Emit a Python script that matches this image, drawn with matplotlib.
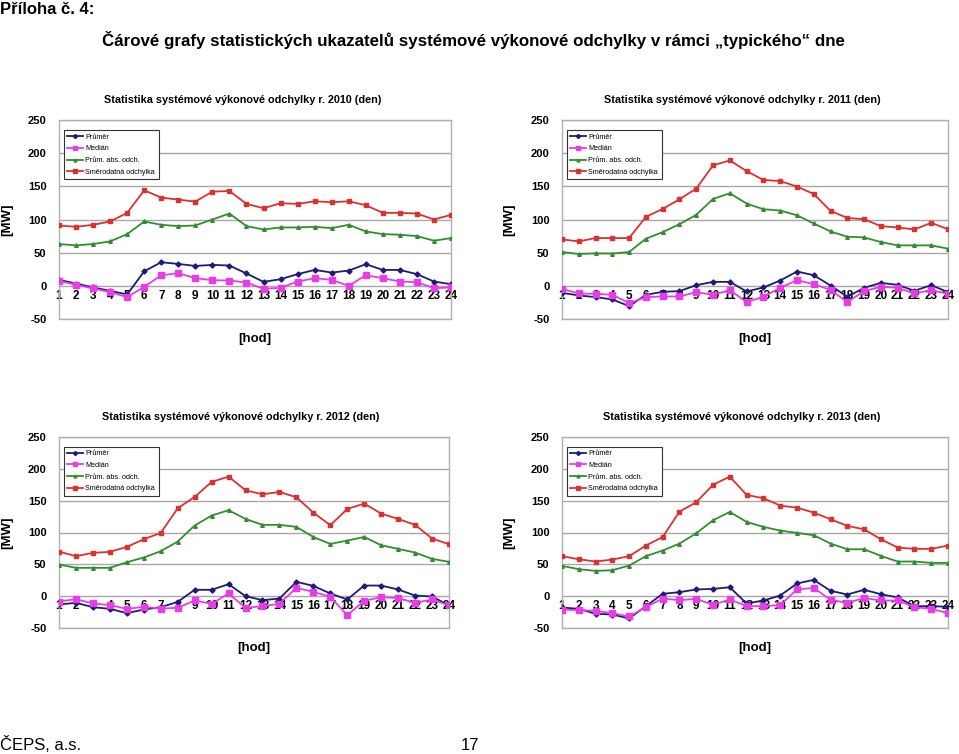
import matplotlib
matplotlib.use("Agg")
import matplotlib.pyplot as plt

plt.rcParams['font.family'] = ['Liberation Sans', 'DejaVu Sans']

hours = list(range(1, 25))

# 2010
prumer_2010 = [9, 3.5, -2.5, -7.5, -13, 22, 35.6, 33, 30, 31.6, 30.6, 18.6, 6, 10, 17.6, 24, 20, 23, 32.6, 24, 24, 17.6, 6.5, 2.5]
median_2010 = [7.5, 1.5, -4, -9.5, -17, -1.5, 16, 19, 11.5, 8.5, 8, 5, -4.5, -3, 6.5, 11.5, 9, 0, 16, 11.5, 6.5, 5.5, -3.5, -2.5]
abs_2010 = [63, 61, 63, 67, 78, 97, 92, 90, 91, 100, 109, 90, 85, 88, 88, 89, 87, 92, 82, 78, 77, 75, 68, 72]
std_2010 = [91, 89, 92, 97, 110, 144, 133, 130, 127, 142, 143, 123.5, 117, 124.5, 123.5, 127.5, 126, 127.5, 121.5, 110, 110, 109, 100, 107]

# 2011
prumer_2011 = [-10.5, -14.5, -17, -20.5, -30.6, -13.5, -9, -8, 1, 6, 6, -8.5, -2.5, 8, 21.6, 16, 0.5, -16.5, -3, 4.5, 1.5, -7.5, 1, -9.5]
median_2011 = [-4.5, -11.5, -12, -13.5, -26, -17, -16, -16, -9.5, -13.5, -6.5, -24.6, -16.5, -3, 8.5, 2.5, -6, -24.6, -8, -1.5, -3, -11.5, -6.5, -12]
abs_2011 = [51, 48, 49, 48.7, 51, 71, 81, 93, 107, 131, 139.5, 124, 115.5, 113.5, 106.4, 94, 82, 74, 73, 66, 61, 61, 61, 56]
std_2011 = [70, 67, 72, 72, 72, 104, 116, 130.5, 146.6, 181.7, 189, 173, 159.6, 158, 149.6, 138.5, 113, 102.4, 100.4, 90, 88, 85, 95, 85.3]

# 2012
prumer_2012 = [-13, -10.5, -17.3, -19.9, -26.7, -21, -17.3, -9, 10, 10, 18.8, 0, -6.3, -3.7, 22.5, 16.2, 4.2, -5.2, 16.7, 16.7, 10.5, 1, -0.5, -14.6]
median_2012 = [-8.4, -4.7, -11.5, -14, -20, -16.7, -19.4, -18.3, -6.8, -12, 4.2, -18.3, -15.7, -12, 13, 6.8, -1, -29.8, -7.3, -1.6, -3, -10.5, -5.2, -14.6]
abs_2012 = [49.7, 44.5, 44.5, 44.5, 53.3, 60.7, 70.6, 85.8, 110.9, 126.6, 135, 121.3, 112, 112, 108.8, 93, 82, 87.3, 93, 80, 74.3, 68.5, 58.6, 53.9]
std_2012 = [70, 62.8, 68, 69.6, 77.4, 89.4, 99.4, 138, 155.9, 179.4, 187.8, 166.3, 160, 163.7, 155.3, 131.3, 111.4, 137, 145.4, 129.7, 121.3, 112, 90.5, 81.6]

# 2013
prumer_2013 = [-17.8, -19.9, -27.7, -28.8, -35, -15.7, 3.7, 6.3, 10.5, 11.5, 14, -11.5, -6.8, 1, 19.9, 25.6, 8.4, 2.6, 10, 3.1, -2, -15.7, -15.7, -16.7]
median_2013 = [-21, -22, -23, -26.7, -31.9, -17.3, -3.7, -6.3, -4.2, -13.6, -5.2, -15.7, -15.7, -14, 10.5, 13, -5.8, -10.5, -3, -6.8, -6.8, -17.3, -19.9, -26.7]
abs_2013 = [47.6, 42.4, 39.7, 40.8, 48, 62.8, 71.7, 82.6, 98.8, 119.2, 132.3, 116.6, 108.8, 103, 99.4, 95.7, 82.6, 73.7, 73.7, 63.3, 54.4, 54.4, 52.3, 52.3]
std_2013 = [62.8, 58, 54.4, 57.5, 62.8, 79.5, 93, 132.8, 147.5, 175, 187.8, 159, 153.8, 142.3, 139, 131.3, 120.8, 110.4, 105, 89.4, 76.4, 74.3, 74.3, 79.5]

years = ['2010', '2011', '2012', '2013']
series_names = ['Průměr', 'Medián', 'Prům. abs. odch.', 'Směrodatná odchylka']
data = {
    '2010': [prumer_2010, median_2010, abs_2010, std_2010],
    '2011': [prumer_2011, median_2011, abs_2011, std_2011],
    '2012': [prumer_2012, median_2012, abs_2012, std_2012],
    '2013': [prumer_2013, median_2013, abs_2013, std_2013],
}
y_ticks = [-50, 0, 50, 100, 150, 200, 250]

colors = ['#1c1c78', '#e83ce8', '#2f8f2f', '#dd3030']
markers = ['D', 's', '^', 's']
msizes = [2.6, 4.2, 2.6, 2.8]

W, H = 959, 754
fig = plt.figure(figsize=(W / 100, H / 100), dpi=100)

def px_axes(x0, y0, x1, y1):
    return fig.add_axes([x0 / W, 1 - y1 / H, (x1 - x0) / W, (y1 - y0) / H])

boxes = {
    '2010': (59, 120, 451, 319),
    '2011': (562, 120, 948, 319),
    '2012': (59, 437, 449, 628),
    '2013': (562, 437, 948, 628),
}
mw_x = {'2010': 13, '2011': 515, '2012': 13, '2013': 515}
title_cx = {'2010': 243, '2011': 742, '2012': 241, '2013': 742}

for yr in years:
    x0, y0, x1, y1 = boxes[yr]
    ax = px_axes(x0, y0, x1, y1)
    for vals, name, c, m, ms in zip(data[yr], series_names, colors, markers, msizes):
        ax.plot(hours, vals, color=c, lw=1.3, marker=m, ms=ms, mec=c, mfc=c, label=name, zorder=3)
    ax.set_xlim(1, 24)
    ax.set_ylim(-50, 250)
    ax.set_yticks(y_ticks)
    ax.set_yticklabels([str(t) for t in y_ticks], fontsize=8, fontweight='bold')
    ax.tick_params(axis='y', length=0, pad=9)
    ax.set_xticks([])
    ax.grid(axis='y', color='#a8a8a8', lw=1.0)
    ax.set_axisbelow(True)
    for s in ax.spines.values():
        s.set_color('#b0b0b0')
        s.set_linewidth(1.0)
    sec = ax.secondary_xaxis(50 / 300)
    sec.set_xticks(hours)
    sec.set_xticklabels([str(h) for h in hours], fontsize=8.5, fontweight='bold')
    sec.tick_params(axis='x', length=0, pad=3)
    sec.spines['bottom'].set_visible(False)
    ax.set_title('Statistika systémové výkonové odchylky r. %s (den)' % yr,
                 fontsize=7.8, fontweight='bold', pad=12,
                 x=(title_cx[yr] - x0) / (x1 - x0))
    ax.set_ylabel('[MW]', fontsize=9.5, fontweight='bold')
    ax.yaxis.set_label_coords((mw_x[yr] - x0) / (x1 - x0), 0.5)
    ax.set_xlabel('[hod]', fontsize=9.5, fontweight='bold', labelpad=10)
    leg = ax.legend(loc='upper left', bbox_to_anchor=(0.012, 0.95), fontsize=5.2,
                    frameon=True, fancybox=False, edgecolor='#333333', framealpha=1,
                    borderaxespad=0, handlelength=2.2, handletextpad=0.3,
                    labelspacing=0.65, borderpad=0.5, markerscale=0.8)
    leg.get_frame().set_linewidth(0.8)

fig.text(0, 1 - 9 / H, 'Příloha č. 4:', fontsize=12, fontweight='bold',
         va='center', ha='left')
fig.text(473 / W, 1 - 40 / H,
         'Čárové grafy statistických ukazatelů systémové výkonové odchylky v rámci „typického“ dne',
         fontsize=12.2, fontweight='bold', va='center', ha='center')
fig.text(0, 1 - 745 / H, 'ČEPS, a.s.', fontsize=12, va='center', ha='left')
fig.text(470 / W, 1 - 745 / H, '17', fontsize=12, va='center', ha='center')

fig.savefig('out.png', dpi=100)
